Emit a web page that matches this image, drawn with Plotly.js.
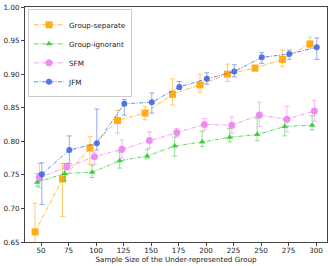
<!DOCTYPE html>
<html><head><meta charset="utf-8">
<script src="https://cdn.plot.ly/plotly-3.0.1.min.js"></script>
<style>html,body{margin:0;padding:0;background:#fff}#c{width:332px;height:266px}</style>
</head><body><div id="c"></div>
<script>
const sampleSizes = [50,75,100,125,150,175,200,225,250,275,300];
const xTicks = [50,75,100,125,150,175,200,225,250,275,300];

const sepMean = [0.665,0.744,0.790,0.831,0.842,0.870,0.884,0.900,0.909,0.922,0.945];
const sepUp   = [0.043,0.023,0.017,0.015,0.010,0.023,0.016,0.015,0.004,0.014,0.010];
const sepDown = [0.043,0.056,0.024,0.019,0.010,0.016,0.011,0.011,0.004,0.011,0.006];

const ignMean = [0.739,0.752,0.754,0.771,0.778,0.793,0.799,0.806,0.810,0.822,0.824];
const ignUp   = [0.013,0.015,0.010,0.013,0.010,0.013,0.016,0.013,0.024,0.010,0.014];
const ignDown = [0.006,0.011,0.008,0.011,0.004,0.015,0.007,0.007,0.009,0.014,0.007];

const sfmMean = [0.746,0.762,0.777,0.788,0.801,0.813,0.825,0.824,0.839,0.833,0.845];
const sfmUp   = [0.021,0.005,0.007,0.014,0.013,0.006,0.009,0.012,0.019,0.019,0.016];
const sfmDown = [0.015,0.005,0.011,0.013,0.011,0.006,0.008,0.012,0.017,0.019,0.015];

const jfmMean = [0.751,0.787,0.797,0.856,0.858,0.881,0.893,0.904,0.925,0.930,0.940];
const jfmUp   = [0.017,0.021,0.051,0.006,0.014,0.008,0.009,0.010,0.007,0.006,0.014];
const jfmDown = [0.045,0.020,0.010,0.017,0.016,0.004,0.008,0.008,0.009,0.008,0.018];

const seriesNames = ['Group-separate','Group-ignorant','SFM','JFM'];
const xShift = [-5.5,-3.5,-1.5,0.7];

function mk(name, mean, up, down, shift, rgb, symbol, size){
  return {
    type:'scatter', mode:'lines+markers', name:name,
    x: sampleSizes.map(v=>v+shift), y: mean,
    line:{color:`rgba(${rgb},0.8)`, width:1, dash:'4px,1.5px,1px,1.5px'},
    marker:{color:`rgba(${rgb},0.9)`, symbol:symbol, size:size},
    error_y:{type:'data', symmetric:false, array:up, arrayminus:down,
      color:`rgba(${rgb},0.55)`, thickness:1, width:2.5}
  };
}

const data = [
  mk(seriesNames[0], sepMean, sepUp, sepDown, xShift[0], '255,165,0', 'square', 7),
  mk(seriesNames[1], ignMean, ignUp, ignDown, xShift[1], '50,205,50', 'triangle-up', 6),
  mk(seriesNames[2], sfmMean, sfmUp, sfmDown, xShift[2], '238,130,238', 'circle', 7),
  mk(seriesNames[3], jfmMean, jfmUp, jfmDown, xShift[3], '65,105,225', 'circle', 6)
];

const font = {family:'DejaVu Sans', size:7.2, color:'#222'};
const layout = {
  width:332, height:266,
  margin:{l:25, r:5, t:7, b:24},
  paper_bgcolor:'#fff', plot_bgcolor:'#fff',
  font: font,
  showlegend:true,
  legend:{x:0.01, y:0.99, xanchor:'left', yanchor:'top', bgcolor:'rgba(255,255,255,0.9)',
    bordercolor:'#ccc', borderwidth:1, font:{family:'DejaVu Sans', size:7.2, color:'#222'},
    itemwidth:30, tracegroupgap:0},
  xaxis:{range:[35.4,310], tickvals:xTicks, ticktext:xTicks.map(String),
    showgrid:false, zeroline:false, showline:true, mirror:true, linecolor:'#444', linewidth:1,
    ticks:'outside', ticklen:3, tickcolor:'#444', tickfont:font, ticklabelstandoff:-2,
    title:{text:'Sample Size of the Under-represented Group', font:font, standoff:0}},
  yaxis:{range:[0.65,1.0], dtick:0.05, tick0:0.65, tickformat:'.2f',
    showgrid:false, zeroline:false, showline:true, mirror:true, linecolor:'#444', linewidth:1,
    ticks:'outside', ticklen:3, tickcolor:'#444', tickfont:font}
};
Plotly.newPlot('c', data, layout, {displayModeBar:false, staticPlot:true});
</script></body></html>
